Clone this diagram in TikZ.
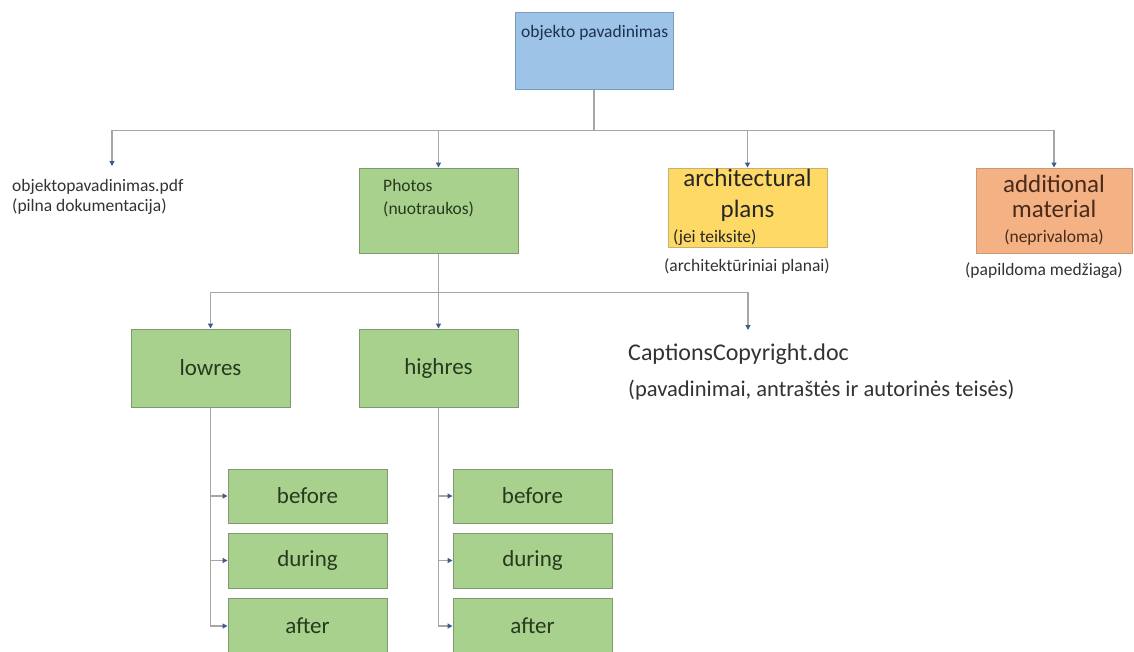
\documentclass[tikz,border=0pt]{standalone}
\usepackage{fontspec}
\setmainfont{Carlito}
\usetikzlibrary{arrows.meta}
\definecolor{bluefill}{HTML}{9DC3E6}
\definecolor{blueline}{HTML}{7A9CC0}
\definecolor{greenfill}{HTML}{A9D18E}
\definecolor{greenline}{HTML}{7E9A70}
\definecolor{yellowfill}{HTML}{FFD966}
\definecolor{yellowline}{HTML}{C8B070}
\definecolor{orangefill}{HTML}{F4B183}
\definecolor{orangeline}{HTML}{C89878}
\definecolor{connline}{HTML}{A6A6A6}
\definecolor{tipblue}{HTML}{3B5B8C}
\definecolor{darktext}{HTML}{333333}
\definecolor{greentext}{HTML}{263A1E}
\definecolor{navytext}{HTML}{1F2F4F}
\definecolor{browntext}{HTML}{4A2A1A}
\newcommand{\myfs}[2]{\fontsize{#1}{#2}\selectfont}
\begin{document}
\begin{tikzpicture}[x=1pt,y=-1pt,
  basebox/.style={draw, line width=1pt, inner sep=0pt, anchor=center},
  bluebox/.style={basebox, draw=blueline, fill=bluefill, minimum width=158pt, minimum height=77pt},
  greenbox/.style={basebox, draw=greenline, fill=greenfill, text=greentext, minimum width=159pt, font=\myfs{23}{27}},
  yellowbox/.style={basebox, draw=yellowline, fill=yellowfill, text=black!85, minimum width=159pt, minimum height=79pt},
  orangebox/.style={basebox, draw=orangeline, fill=orangefill, text=browntext, minimum width=156pt, minimum height=85pt},
  txt/.style={inner sep=0pt, text=darktext, font=\myfs{17.5}{20}},
  conn/.style={draw=connline, line width=1.8pt, -{Triangle[length=5pt,width=5pt,color=tipblue]}}
]
\useasboundingbox[fill=white] (0,0) rectangle (1134,651);

% top
\node[bluebox] (top) at (594,50.5) {};
\node[txt, anchor=west, text=navytext] (toptext) at (521,33) {objekto pavadinimas};

% second level
\node[txt, anchor=west, align=left] (pdf) at (12,197) {objektopavadinimas.pdf\\(pilna dokumentacija)};
\coordinate (pdfin) at (112,166);

\node[greenbox, minimum height=85pt] (photos) at (438.5,210.5) {};
\node[txt, anchor=west, align=left, text=greentext, font=\myfs{17.5}{23}] (photostext) at (383,198.5) {Photos\\(nuotraukos)};

\node[yellowbox, text width=149pt, align=center, font=\myfs{25}{31}] (arch) at (747.5,207.5)
  {architectural\\plans\\[-6pt]\makebox[\linewidth][l]{\myfs{17.5}{20}(jei\hspace{4pt}teiksite)}};
\node[txt] (archcap) at (747,267) {(architektūriniai planai)};

\node[orangebox, align=center, font=\myfs{25}{25}] (add) at (1054,210.5)
  {additional\\material\\{\myfs{17.5}{25}(neprivaloma)}};
\node[txt] (addcap) at (1044,271) {(papildoma medžiaga)};

% third level
\node[greenbox, minimum height=78pt] (lowres) at (210.5,368) {lowres};
\node[greenbox, minimum height=78pt] (highres) at (438.5,368) {highres};
\node[txt, anchor=base west, font=\myfs{24}{28}] (cap1) at (628,360) {CaptionsCopyright.doc};
\node[txt, anchor=base west, font=\myfs{22.5}{26}] (cap2) at (628,396) {(pavadinimai, antraštės ir autorinės teisės)};
\coordinate (capin) at (748,330);

% fourth level
\node[greenbox, minimum height=54pt] (bL) at (307.5,496) {before};
\node[greenbox, minimum height=55pt] (dL) at (307.5,560.5) {during};
\node[greenbox, minimum height=56pt] (aL) at (307.5,626) {after};
\node[greenbox, minimum height=54pt] (bR) at (532.5,496) {before};
\node[greenbox, minimum height=55pt] (dR) at (532.5,560.5) {during};
\node[greenbox, minimum height=56pt] (aR) at (532.5,626) {after};

% connectors
\draw[conn] (top.south) -- ++(0,41) -| (pdfin);
\draw[conn] (top.south) -- ++(0,41) -| (photos.north);
\draw[conn] (top.south) -- ++(0,41) -| (arch.north);
\draw[conn] (top.south) -- ++(0,41) -| (add.north);

\draw[conn] (photos.south) -- ++(0,39) -| (lowres.north);
\draw[conn] (photos.south) -- ++(0,39) -| (highres.north);
\draw[conn] (photos.south) -- ++(0,39) -| (capin);

\draw[conn] (lowres.south) |- (bL.west);
\draw[conn] (lowres.south) |- (dL.west);
\draw[conn] (lowres.south) |- (aL.west);
\draw[conn] (highres.south) |- (bR.west);
\draw[conn] (highres.south) |- (dR.west);
\draw[conn] (highres.south) |- (aR.west);
\end{tikzpicture}
\end{document}
